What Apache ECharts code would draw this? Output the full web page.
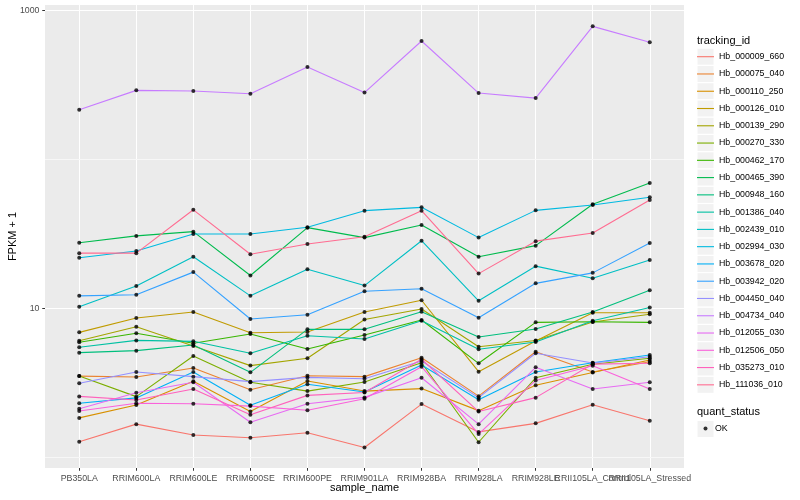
<!DOCTYPE html>
<html>
<head>
<meta charset="utf-8">
<script src="https://cdn.jsdelivr.net/npm/echarts@6/dist/echarts.min.js"></script>
<style>html,body{margin:0;padding:0;background:#fff}#c{width:800px;height:500px}</style>
</head>
<body>
<div id="c"></div>
<script>
// ---- data ----
const samples = ['PB350LA','RRIM600LA','RRIM600LE','RRIM600SE','RRIM600PE','RRIM901LA','RRIM928BA','RRIM928LA','RRIM928LE','RRII105LA_Control','RRII105LA_Stressed'];
const trackingIds = ['Hb_000009_660','Hb_000075_040','Hb_000110_250','Hb_000126_010','Hb_000139_290','Hb_000270_330','Hb_000462_170','Hb_000465_390','Hb_000948_160','Hb_001386_040','Hb_002439_010','Hb_002994_030','Hb_003678_020','Hb_003942_020','Hb_004450_040','Hb_004734_040','Hb_012055_030','Hb_012506_050','Hb_035273_010','Hb_111036_010'];
const quantStatus = ['OK'];
const yTickLabels = [10, 1000];
const yMinorLines = [1, 100];

const hb_000009_660 = [1.28, 1.68, 1.42, 1.36, 1.47, 1.17, 2.29, 1.49, 1.70, 2.27, 1.77];
const hb_000075_040 = [3.53, 3.48, 4.00, 2.86, 3.55, 3.50, 4.69, 2.59, 5.14, 3.76, 4.41];
const hb_000110_250 = [1.85, 2.26, 3.26, 2.04, 3.27, 2.80, 2.91, 2.07, 3.06, 3.73, 4.53];
const hb_000126_010 = [6.94, 8.66, 9.50, 6.90, 6.98, 9.50, 11.4, 3.78, 6.07, 9.40, 9.40];
const hb_000139_290 = [6.10, 7.57, 5.62, 4.15, 4.65, 8.46, 9.95, 5.56, 6.12, 8.14, 9.17];
const hb_000270_330 = [3.53, 2.57, 4.81, 3.21, 2.80, 3.22, 4.34, 1.27, 3.44, 4.24, 4.65];
const hb_000462_170 = [5.95, 6.84, 5.86, 6.76, 5.36, 6.66, 8.40, 4.30, 8.10, 8.18, 8.10];
const hb_000465_390 = [27.7, 30.8, 32.9, 16.7, 35.0, 30.0, 36.5, 22.3, 26.5, 50.2, 69.8];
const hb_000948_160 = [5.07, 5.23, 5.71, 3.74, 7.27, 7.27, 9.55, 6.46, 7.31, 9.50, 13.3];
const hb_001386_040 = [5.51, 6.13, 6.04, 5.02, 6.59, 6.26, 8.31, 5.34, 5.98, 8.31, 10.2];
const hb_002439_010 = [10.3, 14.2, 22.3, 12.2, 18.4, 14.3, 28.6, 11.3, 19.3, 16.0, 21.2];
const hb_002994_030 = [22.0, 24.4, 31.7, 31.7, 35.2, 45.5, 47.9, 30.0, 45.7, 49.7, 56.0];
const hb_003678_020 = [2.32, 2.52, 3.76, 2.25, 3.11, 2.76, 4.19, 2.45, 3.76, 4.34, 4.89];
const hb_003942_020 = [12.2, 12.4, 17.6, 8.53, 9.1, 13.1, 13.6, 8.7, 14.8, 17.4, 27.6];
const hb_004450_040 = [3.16, 3.76, 3.50, 3.24, 3.46, 3.39, 4.46, 2.53, 5.02, 4.32, 4.76];
const hb_004734_040 = [216.5, 292, 289, 277, 419, 282, 626, 280, 259, 785, 614];
const hb_012055_030 = [2.13, 2.73, 3.21, 1.73, 2.30, 2.54, 3.44, 1.68, 4.04, 2.89, 3.21];
const hb_012506_050 = [2.06, 2.32, 2.30, 2.22, 2.08, 2.49, 4.08, 1.44, 3.30, 4.14, 2.89];
const hb_035273_010 = [2.58, 2.44, 2.89, 1.94, 2.62, 2.74, 4.58, 2.04, 2.53, 4.25, 4.30];
const hb_111036_010 = [23.6, 23.6, 46.1, 23.2, 27.2, 30.4, 45.5, 17.2, 28.4, 32.2, 53.6];

const allValues = [hb_000009_660, hb_000075_040, hb_000110_250, hb_000126_010, hb_000139_290, hb_000270_330, hb_000462_170, hb_000465_390, hb_000948_160, hb_001386_040, hb_002439_010, hb_002994_030, hb_003678_020, hb_003942_020, hb_004450_040, hb_004734_040, hb_012055_030, hb_012506_050, hb_035273_010, hb_111036_010];

// ---- style ----
const colors = ['#F8766D','#EA8331','#D89000','#C09B00','#A3A500','#7CAE00','#39B600','#00BB4E','#00BF7D','#00C1A3','#00BFC4','#00BAE0','#00B0F6','#35A2FF','#9590FF','#C77CFF','#E76BF3','#FA62DB','#FF62BC','#FF6C91'];
const FONT = 'Liberation Sans, Arial, sans-serif';
const KEY_X = 697, KEY_TOP = 48.2, KEY_STEP = 17.27, KEY_SIZE = 17;
const OK_KEY_TOP = 420.5;

const chart = echarts.init(document.getElementById('c'), null, {renderer: 'canvas'});

const sampleIdx = samples.map((_, i) => i);
// labels drawn on two axes so that the overlapping last two labels both show (as in ggplot)
const labelIdxMain = sampleIdx.filter(i => i !== samples.length - 2);
const labelIdxAlt = [samples.length - 2];

const lineSeries = trackingIds.map((id, i) => ({
  name: id,
  type: 'line',
  data: allValues[i].map((v, j) => [j, v]),
  color: colors[i],
  showSymbol: false,
  symbol: 'none',
  lineStyle: {width: 1.1, color: colors[i]},
  emphasis: {disabled: true},
  animation: false,
  z: 2
}));

const pointData = [];
allValues.forEach(arr => arr.forEach((v, j) => pointData.push([j, v])));

// minor horizontal grid lines (ggplot minor breaks) via markLine on an empty helper series
const minorGridSeries = {
  name: '__minor', type: 'line', data: [], z: 1, silent: true,
  markLine: {
    silent: true, symbol: ['none', 'none'], label: {show: false}, animation: false,
    lineStyle: {color: '#F7F7F7', width: 1, type: 'solid', opacity: 1},
    emphasis: {disabled: true},
    data: yMinorLines.map(v => ({yAxis: v}))
  }
};

const keyRects = trackingIds.map((_, i) => ({
  type: 'rect',
  shape: {x: KEY_X, y: KEY_TOP + i * KEY_STEP, width: KEY_SIZE, height: KEY_SIZE},
  style: {fill: '#F2F2F2', stroke: '#FFFFFF', lineWidth: 1},
  z: 0, silent: true
}));
keyRects.push({
  type: 'rect',
  shape: {x: KEY_X, y: OK_KEY_TOP, width: KEY_SIZE, height: KEY_SIZE},
  style: {fill: '#F2F2F2', stroke: '#FFFFFF', lineWidth: 1},
  z: 0, silent: true
});

const xLabelStyle = {color: '#4D4D4D', fontSize: 8.8, margin: 6.5, hideOverlap: false, showMinLabel: true, showMaxLabel: true, fontFamily: FONT, formatter: v => samples[Math.round(v)]};

const option = {
  animation: false,
  backgroundColor: '#FFFFFF',
  textStyle: {fontFamily: FONT},
  grid: {left: 45, right: 116, top: 5, bottom: 32, show: true, backgroundColor: '#EBEBEB', borderWidth: 0, containLabel: false, outerBoundsMode: 'none'},
  title: [
    {text: 'tracking_id', left: KEY_X, top: 35, padding: 0, textStyle: {fontSize: 11, fontWeight: 'normal', color: '#000', fontFamily: FONT}},
    {text: 'quant_status', left: KEY_X, top: 406.5, padding: 0, textStyle: {fontSize: 11, fontWeight: 'normal', color: '#000', fontFamily: FONT}}
  ],
  legend: [
    {
      data: trackingIds.map((n, i) => ({name: n, itemStyle: {color: colors[i], borderWidth: 0}})),
      orient: 'vertical', left: KEY_X, top: KEY_TOP, padding: 0,
      itemWidth: KEY_SIZE, itemHeight: KEY_SIZE, itemGap: KEY_STEP - KEY_SIZE,
      icon: 'path://M0,0L0,0M0,7.95L17,7.95L17,9.05L0,9.05ZM17,17L17,17',
      itemStyle: {borderWidth: 0},
      selectedMode: false,
      textStyle: {fontSize: 8.8, color: '#000', fontFamily: FONT, padding: [0, 0, 0, 0]}
    },
    {
      data: quantStatus,
      orient: 'vertical', left: KEY_X + 6.5, top: 424, padding: 0,
      itemWidth: 4, itemHeight: 4, icon: 'circle',
      itemStyle: {color: '#000', borderWidth: 0},
      selectedMode: false,
      textStyle: {fontSize: 8.8, color: '#000', fontFamily: FONT, padding: [0, 0, 0, 2.5]}
    }
  ],
  graphic: keyRects,
  xAxis: [
    {
      type: 'value', min: -0.6, max: 10.6, position: 'bottom',
      name: 'sample_name', nameLocation: 'middle', nameGap: 14.5, nameMoveOverlap: false,
      nameTextStyle: {fontSize: 11, color: '#000', fontFamily: FONT},
      axisLine: {show: false, onZero: false},
      axisTick: {show: true, customValues: sampleIdx, length: 2.75, lineStyle: {color: '#333333', width: 1}},
      axisLabel: Object.assign({customValues: labelIdxMain}, xLabelStyle),
      splitLine: {show: true, lineStyle: {color: '#FFFFFF', width: 1.07}}
    },
    {
      type: 'value', min: -0.6, max: 10.6, position: 'bottom', offset: 0,
      axisLine: {show: false, onZero: false},
      axisTick: {show: false, customValues: labelIdxAlt},
      axisLabel: Object.assign({customValues: labelIdxAlt}, xLabelStyle),
      splitLine: {show: false}
    }
  ],
  yAxis: {
    type: 'log', logBase: 10, min: 0.853, max: 1092,
    name: 'FPKM + 1', nameLocation: 'middle', nameGap: 26.5, nameRotate: 90, nameMoveOverlap: false,
    nameTextStyle: {fontSize: 11, color: '#000', fontFamily: FONT},
    axisLine: {show: false, onZero: false},
    axisTick: {show: true, customValues: yTickLabels, length: 2.75, lineStyle: {color: '#333333', width: 1}},
    axisLabel: {customValues: yTickLabels, color: '#4D4D4D', fontSize: 8.8, margin: 5.5, showMinLabel: true, showMaxLabel: true, fontFamily: FONT, formatter: v => String(Math.round(v))},
    splitLine: {show: true, lineStyle: {color: '#FFFFFF', width: 1.07}}
  },
  series: [minorGridSeries].concat(lineSeries).concat([{
    name: 'OK', type: 'scatter', data: pointData,
    symbol: 'circle', symbolSize: 4, itemStyle: {color: '#000'},
    emphasis: {disabled: true}, z: 5, animation: false
  }])
};
chart.setOption(option);
</script>
</body>
</html>
